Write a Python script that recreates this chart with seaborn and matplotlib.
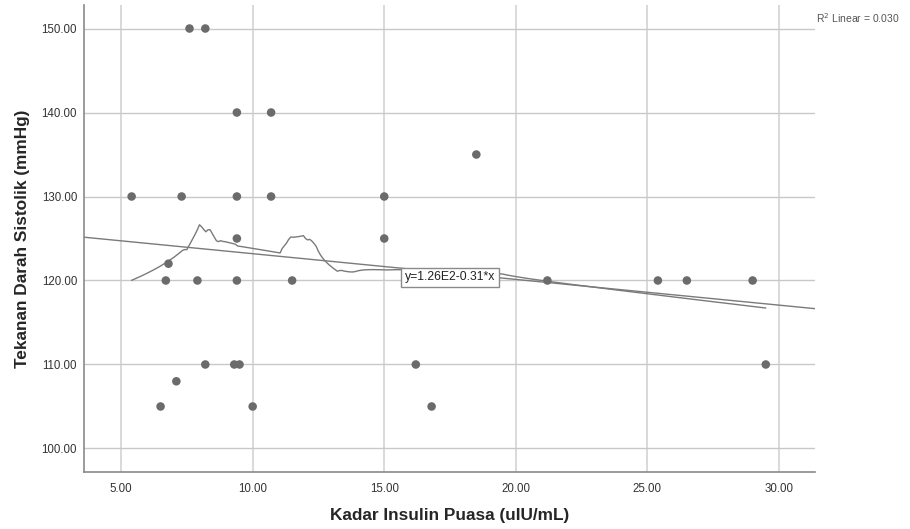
import numpy as np
import pandas as pd
import matplotlib
matplotlib.use('Agg')
import matplotlib.pyplot as plt
import seaborn as sns

# data
insulin = [7.6, 8.2, 9.4, 10.7, 18.5, 5.4, 7.3, 9.4, 10.7, 15.0,
           9.4, 15.0, 6.8, 6.7, 7.9, 9.4, 11.5, 21.2, 25.4, 26.5,
           29.0, 8.2, 9.3, 9.5, 16.2, 29.5, 7.1, 6.5, 10.0, 16.8]
sistolik = [150, 150, 140, 140, 135, 130, 130, 130, 130, 130,
            125, 125, 122, 120, 120, 120, 120, 120, 120, 120,
            120, 110, 110, 110, 110, 110, 108, 105, 105, 105]
x_ticks = [5, 10, 15, 20, 25, 30]
y_ticks = [100, 110, 120, 130, 140, 150]

df = pd.DataFrame({'insulin': insulin, 'sistolik': sistolik})


def loess(x, y, grid, frac=0.5):
    # local linear fit, epanechnikov weights, nearest 50% of points
    x = np.asarray(x, float)
    y = np.asarray(y, float)
    k = int(np.ceil(frac * len(x)))
    out = []
    for x0 in grid:
        d = np.abs(x - x0)
        h = np.sort(d)[k - 1] * 1.05 + 1e-9
        u = d / h
        w = np.where(u < 1, 0.75 * (1 - u ** 2), 0.0)
        sw = w.sum()
        xm = (w * x).sum() / sw
        ym = (w * y).sum() / sw
        sxx = (w * (x - xm) ** 2).sum()
        b = (w * (x - xm) * (y - ym)).sum() / sxx if sxx > 0 else 0.0
        out.append(ym + b * (x0 - xm))
    return np.array(out)


grid = np.linspace(min(insulin), max(insulin), 300)
fit_df = pd.DataFrame({'insulin': grid, 'sistolik': loess(insulin, sistolik, grid)})

b1, b0 = np.polyfit(insulin, sistolik, 1)
r2 = np.corrcoef(insulin, sistolik)[0, 1] ** 2

sns.set_style('white')
plt.rcParams['font.family'] = ['Liberation Sans', 'DejaVu Sans']

fig = plt.figure(figsize=(9.1, 5.29), dpi=100)
ax = fig.add_axes([84 / 910, 1 - 472 / 529, 731 / 910, 467 / 529])
ax.set_xlim(3.59, 31.37)
ax.set_ylim(97.2, 152.8)

for t in x_ticks:
    ax.axvline(t, color='#d9d9d9', lw=1.4, zorder=0)
for t in y_ticks:
    ax.axhline(t, color='#c8c8c8', lw=1.0, zorder=0)

sns.regplot(data=df, x='insulin', y='sistolik', scatter=False, ci=None,
            truncate=False, ax=ax, line_kws={'color': '#7a7a7a', 'lw': 1.0})
sns.lineplot(data=fit_df, x='insulin', y='sistolik', ax=ax,
             color='#7a7a7a', lw=1.0, sort=False)
sns.scatterplot(data=df, x='insulin', y='sistolik', ax=ax, s=38,
                color='#6b6b6b', edgecolor='none', zorder=5)

ax.set_xticks(x_ticks)
ax.set_yticks(y_ticks)
ax.set_xticklabels([f'{t:.2f}' for t in x_ticks])
ax.set_yticklabels([f'{t:.2f}' for t in y_ticks])
ax.tick_params(length=0, labelsize=8.3, labelcolor='#333333')
ax.tick_params(axis='x', pad=8)
ax.tick_params(axis='y', pad=5)

for s in ['top', 'right']:
    ax.spines[s].set_visible(False)
for s in ['left', 'bottom']:
    ax.spines[s].set_color('#8a8a8a')
    ax.spines[s].set_linewidth(1.2)

ax.set_xlabel('Kadar Insulin Puasa (uIU/mL)', fontsize=12.4, fontweight='bold', labelpad=9)
ax.set_ylabel('Tekanan Darah Sistolik (mmHg)', fontsize=12.4, fontweight='bold', labelpad=8)

ax.text(0.5007, 0.4165, f'y={b0 / 100:.2f}E2{b1:.2f}*x', transform=ax.transAxes,
        ha='center', va='center', fontsize=8.8, color='#222222', zorder=6,
        bbox=dict(boxstyle='square,pad=0.3', fc='white', ec='#8a8a8a', lw=1.0))
fig.text(816 / 910, 1 - 18 / 529, f'R$^2$ Linear = {r2:.3f}', ha='left', va='center',
         fontsize=7.5, color='#555555')

fig.savefig('out.png', dpi=100)
